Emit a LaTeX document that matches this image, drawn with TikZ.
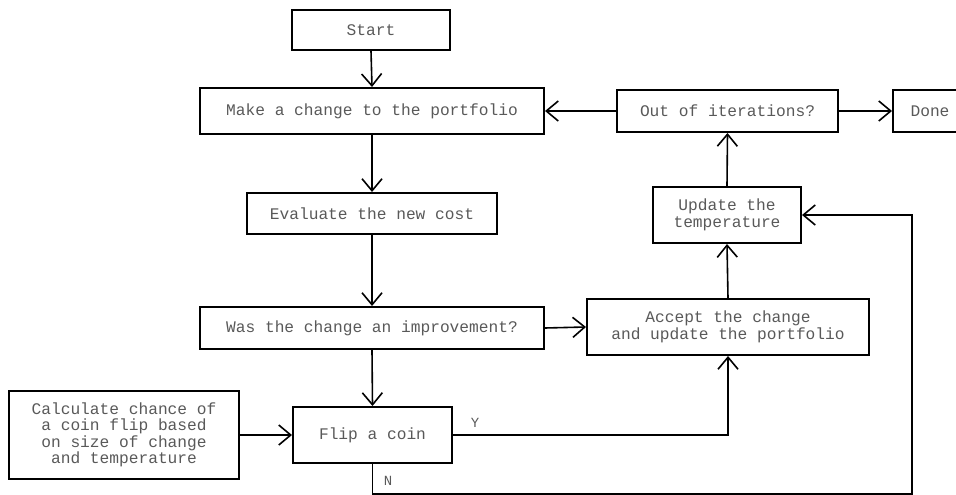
\documentclass[tikz,border=0pt]{standalone}
\usepackage{fontspec}
\setmainfont{Liberation Mono}
\usetikzlibrary{arrows.meta}
\begin{document}
\begin{tikzpicture}[x=1pt,y=-1pt,
  box/.style={draw=black,line width=2pt,rectangle,inner sep=0pt,align=center,
    text=black!65,font=\fontsize{16.2}{16.5}\selectfont},
  conn/.style={line width=1.6pt,-{Straight Barb[length=12pt,width=20pt,line width=1.6pt]}},
  lbl/.style={text=black!65,font=\fontsize{14}{14}\selectfont,inner sep=0pt}]
\useasboundingbox (0,0) rectangle (956,495);
\node[box,minimum width=158pt,minimum height=40pt] (start) at (371,30) {Start};
\node[box,minimum width=344pt,minimum height=46pt] (make) at (372,111) {Make a change to the portfolio};
\node[box,minimum width=221pt,minimum height=42pt] (out) at (727.5,111) {Out of iterations?};
\node[box,minimum width=74pt,minimum height=42pt] (done) at (930,111) {Done};
\node[box,minimum width=250pt,minimum height=41pt] (eval) at (372,213.5) {Evaluate the new cost};
\node[box,minimum width=344pt,minimum height=42pt] (was) at (372,328) {Was the change an improvement?};
\node[box,minimum width=282pt,minimum height=56pt] (accept) at (728,327) {Accept the change\\and update the portfolio};
\node[box,minimum width=148pt,minimum height=56pt] (update) at (727,215) {Update the\\temperature};
\node[box,minimum width=159pt,minimum height=56pt] (flip) at (372.5,435) {Flip a coin};
\node[box,minimum width=230pt,minimum height=88pt] (calc) at (124,435) {Calculate chance of\\a coin flip based\\on size of change\\and temperature};
\coordinate (nb) at (372.5,494);
\coordinate (nr) at (912,494);
\coordinate (nt) at (912,215);
\draw[conn] (start.south) -- (make.north);
\draw[conn] (make.south) -- (eval.north);
\draw[conn] (eval.south) -- (was.north);
\draw[conn] (was.south) -- (flip.north);
\draw[conn] (was.east) -- (accept.west);
\draw[conn] (calc.east) -- (flip.west);
\draw[conn] (flip.east) -- (accept.south |- flip.east) -- (accept.south);
\draw[conn] (flip.south) -- (nb) -- (nr) -- (nt) -- (update.east);
\draw[conn] (accept.north) -- (update.south);
\draw[conn] (update.north) -- (out.south);
\draw[conn] (out.west) -- (make.east);
\draw[conn] (out.east) -- (done.west);
\node[lbl] (ylab) at (475,423) {Y};
\node[lbl] (nlab) at (388,481) {N};
\end{tikzpicture}
\end{document}
